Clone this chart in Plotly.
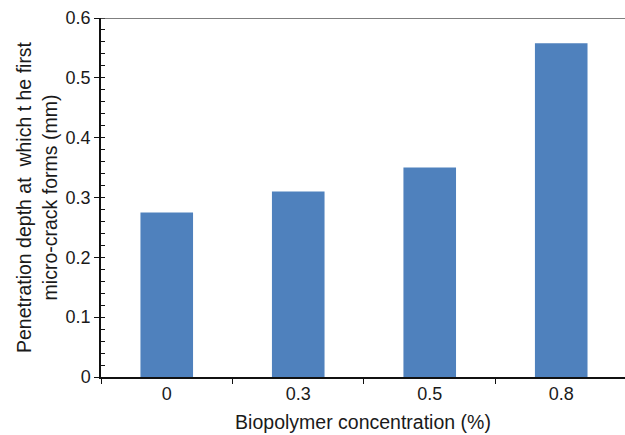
import plotly.graph_objects as go

categories = ["0", "0.3", "0.5", "0.8"]
depth_mm = [0.275, 0.310, 0.350, 0.558]
y_ticks = [0, 0.1, 0.2, 0.3, 0.4, 0.5, 0.6]
y_tick_labels = ["0", "0.1", "0.2", "0.3", "0.4", "0.5", "0.6"]

fig = go.Figure(go.Bar(x=categories, y=depth_mm, marker=dict(color="#4F81BD", line=dict(width=0))))

font = "Liberation Sans, Arial, sans-serif"
fig.update_layout(
    width=625, height=435,
    margin=dict(l=101, r=0, t=18, b=58, autoexpand=False),
    paper_bgcolor="white", plot_bgcolor="white",
    bargap=0.6,
    showlegend=False,
    font=dict(family=font, size=18, color="#1a1a1a"),
)
fig.update_xaxes(
    type="category",
    range=[-0.5, 3.485],
    automargin=False,
    showline=True, linecolor="#111", linewidth=1.5,
    ticks="outside", tickson="boundaries", ticklen=5, tickcolor="#111",
    tickfont=dict(size=18),
    title=dict(text="Biopolymer concentration (%)", font=dict(size=19.5), standoff=12),
    showgrid=False,
)
fig.update_yaxes(
    range=[0, 0.6],
    automargin=False,
    tickvals=y_ticks, ticktext=y_tick_labels,
    showline=True, linecolor="#111", linewidth=1.5,
    ticks="outside", ticklen=5, tickcolor="#111",
    minor=dict(ticks="inside", dtick=0.02, ticklen=4, tickcolor="#111", showgrid=False),
    tickfont=dict(size=18),
    title=dict(text="Penetration depth at  which t he first<br>micro-crack forms (mm)", font=dict(size=19.5), standoff=3),
    showgrid=False, zeroline=False,
)
fig.add_shape(type="line", xref="paper", yref="y", x0=0, x1=1, y0=0.6, y1=0.6,
              line=dict(color="#555", width=1.5))

fig.write_html("out.html", config={"displayModeBar": False},
               post_script="document.body.style.margin='0';document.body.style.overflow='hidden';")
